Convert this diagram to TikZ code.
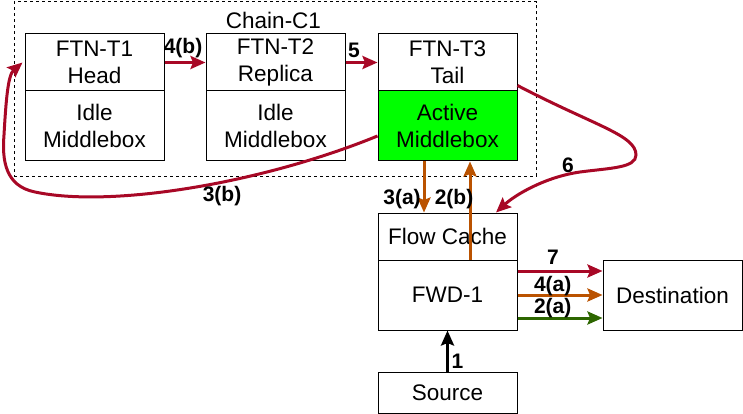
\documentclass[tikz,border=0pt]{standalone}
\usepackage{fontspec}
\setmainfont{Liberation Sans}
\usetikzlibrary{arrows.meta}
\definecolor{flowred}{RGB}{168,8,38}
\definecolor{floworange}{RGB}{186,82,0}
\definecolor{flowgreen}{RGB}{45,102,0}
\definecolor{activegreen}{RGB}{0,255,0}

\begin{document}
\begin{tikzpicture}[x=1pt,y=-1pt,
  font=\fontsize{22.5}{26.5}\selectfont,
  cell/.style={draw,line width=1pt,minimum width=139pt,align=center,inner sep=0pt},
  lbl/.style={font=\fontsize{21}{24}\selectfont\bfseries,inner sep=0pt},
  flow/.style={->,>={Stealth[length=15pt,width=13pt,inset=2.5pt]},line width=3pt}]
\useasboundingbox (0,0) rectangle (743,414);
\node (chain) at (14,1.5) [draw,dash pattern=on 3pt off 3pt,line width=0.8pt,anchor=north west,minimum width=522pt,minimum height=174.5pt,inner sep=0pt] {};
\node (chainlbl) at (273.5,20) {Chain-C1};

\node (t1top) at (94.5,62.5) [cell,minimum height=57pt] {FTN-T1\\Head};
\node (t1mb) at (94.5,126) [cell,minimum height=70pt] {Idle\\Middlebox};
\node (t2top) at (275.5,62.5) [cell,minimum height=57pt] {FTN-T2\\Replica};
\node (t2mb) at (275.5,126) [cell,minimum height=70pt] {Idle\\Middlebox};
\node (t3top) at (447.5,62.5) [cell,minimum height=57pt] {FTN-T3\\Tail};
\node (t3mb) at (447.5,126) [cell,minimum height=70pt,fill=activegreen] {Active\\Middlebox};

\node (fc) at (447.5,236.5) [cell,minimum height=47pt] {Flow Cache};
\node (fwd) at (447.5,295) [cell,minimum height=70pt] {FWD-1};
\node (dest) at (672.5,295) [cell,minimum height=70pt] {Destination};
\node (src) at (447.5,392.5) [cell,minimum height=41pt] {Source};

\draw[flow,flowred] (t1top.east) to (t2top.west);
\draw[flow,flowred] (t2top.east) to (t3top.west);
\draw[flow,floworange] ([xshift=-23.5pt]t3mb.south) to ([xshift=-23.5pt]fc.north);
\draw[flow,floworange] ([xshift=22.5pt]fwd.north) to ([xshift=22.5pt]t3mb.south);
\draw[flow,black,line width=3.3pt] (src.north) to (fwd.south);
\draw[flow,flowred] ([yshift=24pt]fwd.east) to ([yshift=24pt]dest.west);
\draw[flow,floworange] (fwd.east) to (dest.west);
\draw[flow,flowgreen] ([yshift=-23pt]fwd.east) to ([yshift=-23pt]dest.west);

\draw[flow,flowred] ([yshift=6pt]t3top.south east) .. controls (595,126) and (636,135) .. (636,155) .. controls (636,168) and (610,168) .. (580,172) .. controls (545,177) and (515,195) .. ([xshift=48.5pt]fc.north);
\draw[flow,flowred] ([yshift=-10pt]t3mb.west) .. controls (260,184) and (110,208) .. (35,192) .. controls (5,186) and (2,160) .. (4,135) .. controls (6,100) and (8,75) .. ([xshift=-2pt]t1top.west);

\node (l4b) at (183,48) [lbl] {4(b)};
\node (l5) at (354,50) [lbl] {5};
\node (l3b) at (222,196) [lbl] {3(b)};
\node (l6) at (568,165) [lbl] {6};
\node (l3a) at (402,199) [lbl] {3(a)};
\node (l2b) at (454,199) [lbl] {2(b)};
\node (l7) at (553,257.5) [lbl] {7};
\node (l4a) at (552.7,286) [lbl] {4(a)};
\node (l2a) at (552.7,308.3) [lbl] {2(a)};
\node (l1) at (457.5,361.7) [lbl] {1};
\end{tikzpicture}
\end{document}
